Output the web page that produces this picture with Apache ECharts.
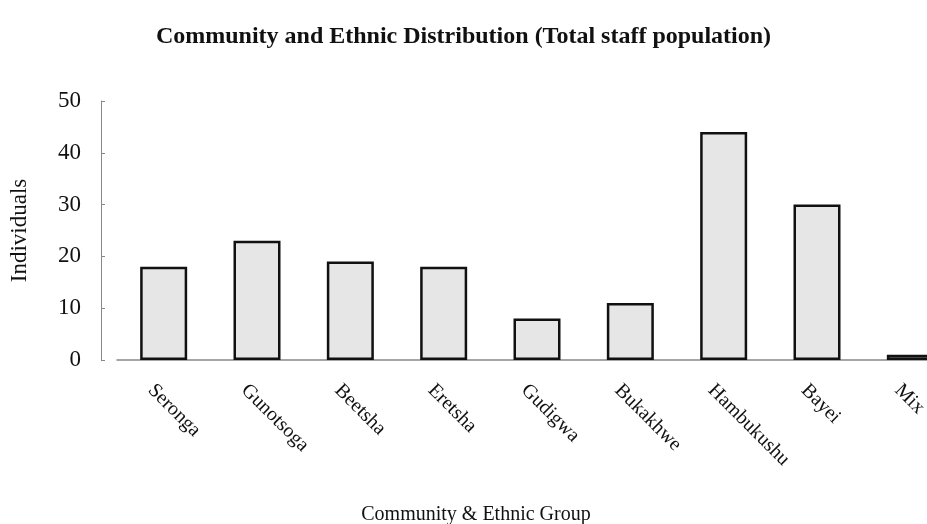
<!DOCTYPE html>
<html>
<head>
<meta charset="utf-8">
<script src="https://cdn.jsdelivr.net/npm/echarts@6/dist/echarts.min.js"></script>
<style>
  html, body { margin: 0; padding: 0; background: #fff; }
  #chart { width: 927px; height: 524px; }
</style>
</head>
<body>
<div id="chart"></div>
<script>
const categories = ['Seronga', 'Gunotsoga', 'Beetsha', 'Eretsha', 'Gudigwa', 'Bukakhwe', 'Hambukushu', 'Bayei', 'Mix']
const individuals = [18, 23, 19, 18, 8, 11, 44, 30, 1]
const yTicks = [0, 10, 20, 30, 40, 50]

const font = '"Liberation Serif", "Times New Roman", serif'

const chart = echarts.init(document.getElementById('chart'))

const option = {
  animation: false,
  backgroundColor: '#fff',
  title: {
    text: 'Community and Ethnic Distribution (Total staff population)',
    left: 'center',
    top: 20,
    textStyle: {
      fontFamily: font,
      fontSize: 24,
      fontWeight: 'bold',
      color: '#111'
    }
  },
  grid: {
    left: 117,
    width: 840,
    top: 101,
    bottom: 164,
    outerBoundsMode: 'none'
  },
  xAxis: {
    type: 'category',
    data: categories,
    name: 'Community & Ethnic Group',
    nameLocation: 'middle',
    nameGap: 145,
    nameTextStyle: {
      fontFamily: font,
      fontSize: 20,
      color: '#111',
      padding: [0, 122, 0, 0]
    },
    axisLine: { lineStyle: { color: '#888', width: 1.5 } },
    axisTick: { show: false },
    axisLabel: {
      rotate: -45,
      margin: 40,
      padding: [0, 0, 0, -18],
      fontFamily: font,
      fontSize: 20,
      color: '#111'
    }
  },
  yAxis: {
    type: 'value',
    min: yTicks[0],
    max: yTicks[yTicks.length - 1],
    interval: 10,
    offset: 16,
    name: 'Individuals',
    nameLocation: 'middle',
    nameGap: 70,
    nameTextStyle: {
      fontFamily: font,
      fontSize: 23,
      color: '#111'
    },
    axisLine: { show: true, lineStyle: { color: '#888', width: 1 } },
    axisTick: { show: true, inside: true, length: 4, lineStyle: { color: '#888' } },
    splitLine: { show: false },
    axisLabel: {
      margin: 20,
      fontFamily: font,
      fontSize: 23,
      color: '#111'
    }
  },
  series: [{
    type: 'bar',
    data: individuals,
    barWidth: 47,
    itemStyle: {
      color: '#e6e6e6',
      borderColor: '#111',
      borderWidth: 2.5
    }
  }]
}

chart.setOption(option)
</script>
</body>
</html>
